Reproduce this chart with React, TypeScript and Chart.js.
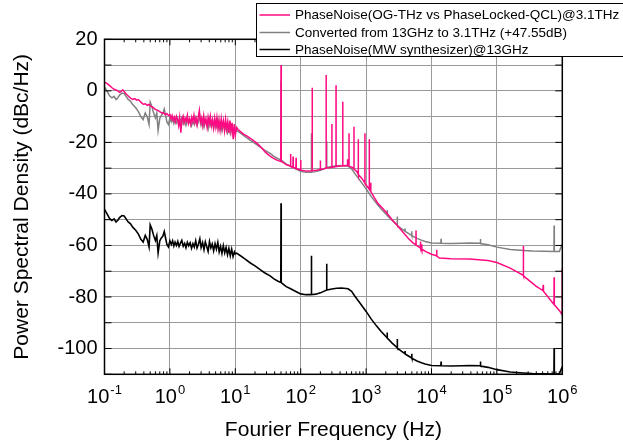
import React, { useEffect, useRef } from 'react';
import { Chart, registerables } from 'chart.js';

Chart.register(...registerables);

const FONT = '"Liberation Sans", Arial, Helvetica, sans-serif';

const seriesLabels = [
  'PhaseNoise(OG-THz vs PhaseLocked-QCL)@3.1THz',
  'Converted from 13GHz to 3.1THz (+47.55dB)',
  'PhaseNoise(MW synthesizer)@13GHz',
];
const seriesColors = ['#ff0a82', '#808080', '#000000'];
const xTitle = 'Fourier Frequency (Hz)';
const yTitle = 'Power Spectral Density (dBc/Hz)';
const xTickExponents = [-1, 0, 1, 2, 3, 4, 5, 6];
const yMin = -110;
const yMax = 20;
const yStep = 10;
const yLabelStep = 20;

// [frequency Hz, dBc/Hz]
const pinkPoints: [number, number][] = [
  [0.1, 3.4], [0.11, 2.8], [0.12, 2.0], [0.13, 1.2], [0.14, 0.6], [0.15, 0.3], [0.16, 0.0], [0.17, -0.6],
  [0.18, -0.2], [0.19, 0.4], [0.2, -0.3], [0.21, -0.9], [0.22, -1.5], [0.235, -2.2], [0.25, -2.8], [0.27, -3.3],
  [0.29, -3.0], [0.31, -3.6], [0.33, -3.4], [0.36, -4.4], [0.39, -5.2], [0.42, -5.0], [0.45, -5.6], [0.48, -5.3],
  [0.51, -5.9], [0.55, -6.4], [0.6, -7.2], [0.65, -7.6], [0.7, -8.1], [0.75, -8.6], [0.8, -8.5], [0.85, -9.3],
  [0.9, -8.8], [0.95, -9.6], [1.0, -9.2],
  [1.04, -10.8], [1.08, -9.6], [1.12, -11.4], [1.17, -10.2], [1.21, -12.0], [1.26, -9.9], [1.31, -11.2], [1.36, -13.5],
  [1.41, -10.4], [1.47, -16.2], [1.53, -11.0], [1.59, -9.8], [1.65, -12.3], [1.71, -10.6], [1.78, -11.8], [1.85, -9.5],
  [1.92, -12.6], [2.0, -10.9], [2.08, -13.0], [2.16, -10.3], [2.24, -11.9], [2.33, -9.4], [2.42, -12.4], [2.52, -10.7],
  [2.61, -13.1], [2.72, -10.1], [2.82, -7.6], [2.93, -12.2], [3.05, -10.5], [3.17, -13.4], [3.29, -9.7], [3.42, -12.8],
  [3.56, -10.9], [3.7, -14.0], [3.84, -10.2], [3.99, -12.9], [4.15, -9.9], [4.31, -13.6], [4.48, -11.2], [4.66, -14.4],
  [4.84, -10.6], [5.03, -13.9], [5.23, -10.4], [5.43, -14.7], [5.64, -11.3], [5.86, -15.0], [6.09, -10.8], [6.33, -14.3],
  [6.58, -11.6], [6.84, -15.4], [7.1, -11.1], [7.38, -14.9], [7.67, -12.0], [7.97, -16.3], [8.28, -11.5], [8.61, -15.6],
  [8.94, -12.4], [9.29, -18.8], [9.65, -12.9], [10.0, -17.2],
  [10.5, -14.2], [11, -15.0], [12, -15.8], [13.5, -16.9], [15, -17.5], [17, -18.4], [19, -19.3], [22, -20.6],
  [25, -22.0], [29, -23.9], [34, -25.3], [39, -26.3], [44, -27.0], [49.6, -27.4], [50, 10.0], [50.4, -27.3],
  [55, -28.0], [60, -28.6], [69.5, -29.2], [70, -24.5], [70.5, -29.3], [76, -29.6], [76.5, -25.5], [77, -29.7],
  [84.5, -30.1], [85, -26.0], [85.5, -30.1], [99.5, -30.8], [100, -26.8], [100.5, -30.8], [115, -31.0], [130, -31.1],
  [149.5, -31.0], [150, 1.2], [150.5, -31.0], [175, -30.8], [199.5, -30.5], [200, -27.0], [200.5, -30.5], [225, -30.3],
  [244.5, -30.0], [245, 6.1], [245.5, -30.0], [299.5, -29.7], [300, -12.9], [300.5, -29.7], [346.5, -29.4], [347, 2.2],
  [347.5, -29.4], [400, -29.2], [439.5, -29.1], [440, -4.2], [440.5, -29.1], [500, -29.0], [519.5, -29.0], [520, -26.5],
  [520.5, -29.0], [547.5, -29.1], [548, -16.5], [548.5, -29.2], [600, -29.6], [652, -30.3], [653, -13.9], [654, -30.4],
  [720, -31.3], [759, -32.4], [760, -18.8], [761, -32.5], [850, -33.8], [930, -35.2], [959, -35.8], [960, -16.5],
  [961, -35.9], [1050, -37.2], [1119, -38.2], [1120, -18.8], [1121, -38.3], [1179, -39.0], [1180, -35.7], [1181, -39.1],
  [1350, -41.6], [1500, -43.5], [1700, -45.0], [2100, -47.6], [2500, -50.0], [3000, -52.3], [3700, -55.0], [4400, -57.2],
  [5200, -59.0], [5790, -59.8], [5800, -54.2], [5810, -59.9], [6790, -61.0], [6800, -58.5], [6810, -61.1], [7090, -61.3],
  [7100, -59.5], [7110, -61.4], [8200, -62.4], [10000, -63.4], [11900, -64.0], [12000, -61.7], [12100, -64.1], [13200, -64.9],
  [20000, -65.2], [38000, -65.3], [73000, -65.8], [100000, -66.6], [160000, -68.8], [253000, -71.6], [254000, -60.2], [255000, -71.8],
  [400000, -75.9], [505000, -77.5], [510000, -75.3], [515000, -77.8], [745000, -82.9], [750000, -72.3], [755000, -83.0], [900000, -85.2],
  [990000, -86.8], [1000000, -68.8],
];

const grayPoints: [number, number][] = [
  [0.1, 1.55], [0.11, -0.25], [0.12, -2.05], [0.13, -2.75], [0.14, -2.15], [0.15, -3.35], [0.16, -2.65], [0.17, -1.65],
  [0.185, -0.85], [0.2, -1.05], [0.215, -2.25], [0.23, -3.35], [0.25, -4.05], [0.27, -5.35], [0.3, -6.55], [0.33, -8.05],
  [0.36, -10.05], [0.39, -11.15], [0.42, -8.55], [0.45, -10.05], [0.48, -13.05], [0.5, -4.45], [0.53, -6.05], [0.56, -8.35],
  [0.6, -10.55], [0.63, -8.65], [0.66, -15.35], [0.7, -10.65], [0.74, -9.55], [0.78, -8.85], [0.82, -7.05], [0.86, -9.65],
  [0.9, -12.05], [0.95, -13.05], [1.0, -10.65],
  [1.05, -12.05], [1.1, -10.65], [1.15, -12.65], [1.2, -11.15], [1.26, -12.45], [1.32, -10.85], [1.38, -12.85], [1.45, -11.55],
  [1.52, -10.45], [1.6, -12.75], [1.68, -11.65], [1.76, -13.35], [1.85, -11.25], [1.94, -12.55], [2.04, -11.45], [2.14, -13.55],
  [2.25, -11.75], [2.36, -13.05], [2.48, -10.65], [2.6, -13.45], [2.73, -11.95], [2.87, -9.85], [3.0, -13.25], [3.16, -11.35],
  [3.32, -14.05], [3.48, -11.05], [3.66, -12.95], [3.84, -14.75], [4.03, -10.95], [4.23, -13.35], [4.44, -11.85], [4.66, -14.55],
  [4.9, -11.75], [5.14, -13.85], [5.4, -11.25], [5.67, -14.95], [5.95, -12.85], [6.25, -15.55], [6.56, -12.55], [6.89, -15.35],
  [7.23, -13.25], [7.6, -16.05], [7.98, -13.55], [8.38, -16.45], [8.8, -13.85], [9.24, -16.75], [9.7, -14.95], [10.0, -15.75],
  [10.5, -15.45], [12, -16.45], [14, -17.65], [17, -19.25], [20, -20.35], [24, -21.85], [28, -23.05], [34, -24.25],
  [39, -25.45], [45, -26.35], [49.6, -26.75], [50, 3.95], [50.4, -26.85], [55, -27.65], [60, -28.45], [69, -29.15],
  [80, -30.05], [100, -31.25], [120, -31.55], [145.5, -31.55], [146, -16.45], [146.5, -31.55], [170, -31.35], [200, -30.85],
  [249.5, -29.75], [250, -19.55], [250.5, -29.75], [300, -29.35], [355, -29.05], [420, -28.95], [530, -29.25], [600, -30.25],
  [670, -32.05], [800, -34.65], [1000, -38.05], [1200, -41.05], [1460, -43.85], [1700, -45.85], [2090, -48.25], [2100, -46.25],
  [2110, -48.35], [2500, -50.35], [2990, -52.15], [3000, -48.75], [3010, -52.25], [3500, -53.55], [3930, -54.45], [3940, -53.45],
  [3950, -54.55], [4500, -55.45], [4990, -56.15], [5000, -54.45], [5010, -56.25], [6000, -57.25], [7000, -57.95], [8000, -58.45],
  [10000, -59.05], [13900, -59.15], [14000, -57.45], [14100, -59.15], [20000, -59.25], [30000, -59.15], [38000, -59.05], [55500, -59.15],
  [56000, -57.45], [56500, -59.25], [73000, -59.75], [100000, -60.65], [160000, -61.55], [254000, -61.95], [350000, -62.15], [510000, -62.25],
  [745000, -62.35], [750000, -52.25], [755000, -62.35], [900000, -62.35], [1000000, -59.45],
];

const blackPoints: [number, number][] = [
  [0.1, -46.0], [0.11, -47.8], [0.12, -49.6], [0.13, -50.3], [0.14, -49.7], [0.15, -50.9], [0.16, -50.2], [0.17, -49.2],
  [0.185, -48.4], [0.2, -48.6], [0.215, -49.8], [0.23, -50.9], [0.25, -51.6], [0.27, -52.9], [0.3, -54.1], [0.33, -55.6],
  [0.36, -57.6], [0.39, -58.7], [0.42, -56.1], [0.45, -57.6], [0.48, -60.6], [0.5, -52.0], [0.53, -53.6], [0.56, -55.9],
  [0.6, -58.1], [0.63, -56.2], [0.66, -62.9], [0.7, -58.2], [0.74, -57.1], [0.78, -56.4], [0.82, -54.6], [0.86, -57.2],
  [0.9, -59.6], [0.95, -60.6], [1.0, -58.2],
  [1.05, -59.6], [1.1, -58.2], [1.15, -60.2], [1.2, -58.7], [1.26, -60.0], [1.32, -58.4], [1.38, -60.4], [1.45, -59.1],
  [1.52, -58.0], [1.6, -60.3], [1.68, -59.2], [1.76, -60.9], [1.85, -58.8], [1.94, -60.1], [2.04, -59.0], [2.14, -61.1],
  [2.25, -59.3], [2.36, -60.6], [2.48, -58.2], [2.6, -61.0], [2.73, -59.5], [2.87, -57.4], [3.0, -60.8], [3.16, -58.9],
  [3.32, -61.6], [3.48, -58.6], [3.66, -60.5], [3.84, -62.3], [4.03, -58.5], [4.23, -60.9], [4.44, -59.4], [4.66, -62.1],
  [4.9, -59.3], [5.14, -61.4], [5.4, -58.8], [5.67, -62.5], [5.95, -60.4], [6.25, -63.1], [6.56, -60.1], [6.89, -62.9],
  [7.23, -60.8], [7.6, -63.6], [7.98, -61.1], [8.38, -64.0], [8.8, -61.4], [9.24, -64.3], [9.7, -62.5], [10.0, -63.3],
  [10.5, -63.0], [12, -64.0], [14, -65.2], [17, -66.8], [20, -67.9], [24, -69.4], [28, -70.6], [34, -71.8],
  [39, -73.0], [45, -73.9], [49.6, -74.3], [50, -43.6], [50.4, -74.4], [55, -75.2], [60, -76.0], [69, -76.7],
  [80, -77.6], [100, -78.8], [120, -79.1], [145.5, -79.1], [146, -64.0], [146.5, -79.1], [170, -78.9], [200, -78.4],
  [249.5, -77.3], [250, -67.1], [250.5, -77.3], [300, -76.9], [355, -76.6], [420, -76.5], [530, -76.8], [600, -77.8],
  [670, -79.6], [800, -82.2], [1000, -85.6], [1200, -88.6], [1460, -91.4], [1700, -93.4], [2090, -95.8], [2100, -93.8],
  [2110, -95.9], [2500, -97.9], [2990, -99.7], [3000, -96.3], [3010, -99.8], [3500, -101.1], [3930, -102.0], [3940, -101.0],
  [3950, -102.1], [4500, -103.0], [4990, -103.7], [5000, -102.0], [5010, -103.8], [6000, -104.8], [7000, -105.5], [8000, -106.0],
  [10000, -106.6], [13900, -106.7], [14000, -105.0], [14100, -106.7], [20000, -106.8], [30000, -106.7], [38000, -106.6], [55500, -106.7],
  [56000, -105.0], [56500, -106.8], [73000, -107.3], [100000, -108.2], [160000, -109.1], [254000, -109.5], [350000, -109.7], [510000, -109.8],
  [745000, -109.9], [750000, -99.8], [755000, -109.9], [900000, -109.9], [1000000, -107.0],
];

const seriesPoints = [pinkPoints, grayPoints, blackPoints];

export default function App() {
  const ref = useRef<HTMLCanvasElement | null>(null);

  useEffect(() => {
    const canvas = ref.current;
    if (!canvas) return;

    const framePlugin = {
      id: 'framePlugin',
      afterDatasetsDraw(chart: any) {
        const { ctx, chartArea: a, scales } = chart;
        const xs = scales.x;
        const ys = scales.y;
        ctx.save();
        ctx.strokeStyle = '#000';
        ctx.lineWidth = 1;
        ctx.beginPath();
        ys.ticks.forEach((t: any) => {
          const y = ys.getPixelForValue(t.value);
          ctx.moveTo(a.left, y);
          ctx.lineTo(a.left + 7, y);
          ctx.moveTo(a.right, y);
          ctx.lineTo(a.right - 7, y);
        });
        xTickExponents.forEach((e, i) => {
          const x = xs.getPixelForValue(Math.pow(10, e));
          ctx.moveTo(x, a.bottom);
          ctx.lineTo(x, a.bottom - 6);
          ctx.moveTo(x, a.top);
          ctx.lineTo(x, a.top + 6);
          if (i < xTickExponents.length - 1) {
            for (let m = 2; m < 10; m++) {
              const xm = xs.getPixelForValue(m * Math.pow(10, e));
              ctx.moveTo(xm, a.bottom);
              ctx.lineTo(xm, a.bottom - 3);
              ctx.moveTo(xm, a.top);
              ctx.lineTo(xm, a.top + 3);
            }
          }
        });
        ctx.stroke();
        ctx.lineWidth = 1.5;
        ctx.strokeRect(a.left, a.top, a.right - a.left, a.bottom - a.top);

        // x tick labels with superscript exponents
        ctx.fillStyle = '#000';
        ctx.textBaseline = 'alphabetic';
        ctx.textAlign = 'left';
        xTickExponents.forEach((e) => {
          const x = xs.getPixelForValue(Math.pow(10, e));
          const base = '10';
          const ex = String(e);
          ctx.font = `20px ${FONT}`;
          const wb = ctx.measureText(base).width;
          ctx.font = `13px ${FONT}`;
          const we = ctx.measureText(ex).width;
          const start = x - (wb + 1 + we) / 2;
          ctx.font = `20px ${FONT}`;
          ctx.fillText(base, start, 403);
          ctx.font = `13px ${FONT}`;
          ctx.fillText(ex, start + wb + 1, 394);
        });
        ctx.restore();
      },
      afterDraw(chart: any) {
        const { ctx } = chart;
        ctx.save();
        const bx = 256.5;
        const by = 3.5;
        const bw = 420;
        const bh = 53;
        ctx.fillStyle = '#fff';
        ctx.fillRect(bx, by, bw, bh);
        ctx.strokeStyle = '#000';
        ctx.lineWidth = 1;
        ctx.strokeRect(bx, by, bw, bh);
        const rowsY = [15, 32.5, 49.5];
        ctx.font = `13.5px ${FONT}`;
        ctx.textBaseline = 'middle';
        ctx.textAlign = 'left';
        seriesLabels.forEach((label, i) => {
          const y = rowsY[i];
          ctx.strokeStyle = seriesColors[i];
          ctx.lineWidth = 1.5;
          ctx.beginPath();
          ctx.moveTo(259.5, y);
          ctx.lineTo(290, y);
          ctx.stroke();
          ctx.fillStyle = '#000';
          ctx.fillText(label, 295, y + 0.5);
        });
        ctx.restore();
      },
    };

    const chart = new Chart(canvas, {
      type: 'line',
      data: {
        datasets: seriesPoints.map((pts, i) => ({
          label: seriesLabels[i],
          data: pts.map(([x, y]) => ({ x, y })),
          borderColor: seriesColors[i],
          backgroundColor: seriesColors[i],
          borderWidth: i === 2 ? 1.6 : 1.5,
          pointRadius: 0,
          tension: 0,
          fill: false,
        })),
      },
      options: {
        responsive: false,
        animation: false,
        devicePixelRatio: 1,
        layout: { padding: { top: 39.3, right: 60.7, bottom: 0, left: 0 } },
        plugins: {
          legend: { display: false },
          tooltip: { enabled: false },
        },
        scales: {
          x: {
            type: 'logarithmic',
            position: 'bottom',
            min: Math.pow(10, xTickExponents[0]),
            max: Math.pow(10, xTickExponents[xTickExponents.length - 1]),
            afterBuildTicks: (s: any) => {
              s.ticks = xTickExponents.map((e) => ({ value: Math.pow(10, e) }));
            },
            afterFit: (s: any) => {
              s.height = 68.7;
              s.paddingLeft = 0;
              s.paddingRight = 0;
            },
            ticks: { display: false, autoSkip: false },
            grid: { color: '#9a9a9a', lineWidth: 1, drawTicks: false },
            border: { display: false },
            title: {
              display: true,
              text: xTitle,
              color: '#000',
              font: { family: FONT, size: 21, weight: 'normal' },
              padding: { top: 0, bottom: 0 },
            },
          },
          y: {
            type: 'linear',
            min: yMin,
            max: yMax,
            afterFit: (s: any) => {
              s.width = 104.5;
              s.paddingTop = 0;
              s.paddingBottom = 0;
            },
            ticks: {
              stepSize: yStep,
              autoSkip: false,
              color: '#000',
              padding: 7,
              font: { family: FONT, size: 20 },
              callback: (v: any) => (Math.round(v) % yLabelStep === 0 ? String(Math.round(v)) : ''),
            },
            grid: { color: '#9a9a9a', lineWidth: 1, drawTicks: false },
            border: { display: false },
            title: {
              display: true,
              text: yTitle,
              color: '#000',
              font: { family: FONT, size: 21, weight: 'normal' },
              padding: { top: 9.4, bottom: 0 },
            },
          },
        },
      } as any,
      plugins: [framePlugin],
    });

    return () => chart.destroy();
  }, []);

  return (
    <div style={{ position: 'fixed', left: 0, top: 0, width: 623, height: 443, background: '#fff' }}>
      <canvas ref={ref} width={623} height={443} style={{ display: 'block', width: 623, height: 443 }} />
    </div>
  );
}
